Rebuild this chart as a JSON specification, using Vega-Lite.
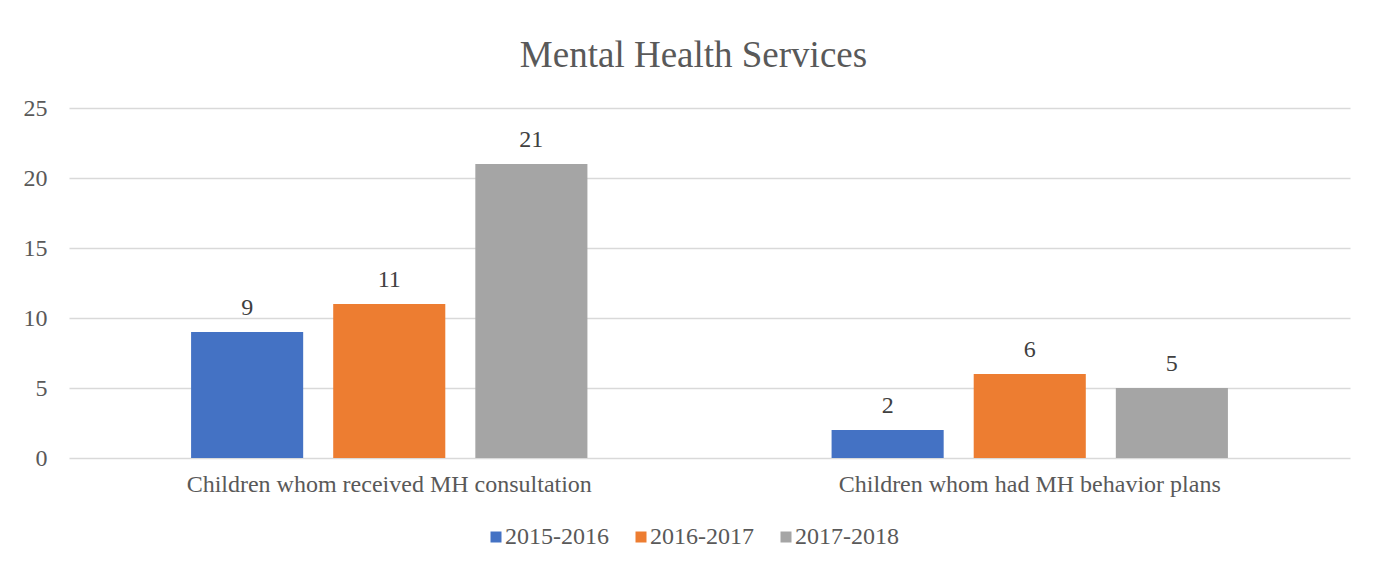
{
  "$schema": "https://vega.github.io/schema/vega-lite/v6.json",
  "autosize": "none",
  "width": 1281,
  "height": 350,
  "padding": {"left": 69, "top": 108, "right": 35, "bottom": 107},
  "background": "white",
  "title": {
    "text": "Mental Health Services",
    "anchor": "middle",
    "frame": "group",
    "dx": -16,
    "offset": -8,
    "baseline": "alphabetic",
    "font": "Liberation Serif",
    "fontSize": 37,
    "fontWeight": "normal",
    "color": "#595959"
  },
  "data": {
    "values": [
      {"category": "Children whom received MH consultation", "year": "2015-2016", "value": 9},
      {"category": "Children whom received MH consultation", "year": "2016-2017", "value": 11},
      {"category": "Children whom received MH consultation", "year": "2017-2018", "value": 21},
      {"category": "Children whom had MH behavior plans", "year": "2015-2016", "value": 2},
      {"category": "Children whom had MH behavior plans", "year": "2016-2017", "value": 6},
      {"category": "Children whom had MH behavior plans", "year": "2017-2018", "value": 5}
    ]
  },
  "encoding": {
    "x": {
      "field": "category",
      "type": "nominal",
      "sort": null,
      "scale": {"paddingInner": 0, "paddingOuter": 0},
      "axis": {
        "title": null,
        "labelAngle": 0,
        "ticks": false,
        "domain": false,
        "labelPadding": 14,
        "labelFont": "Liberation Serif",
        "labelFontSize": 24,
        "labelColor": "#595959",
        "labelLimit": 0
      }
    },
    "xOffset": {
      "field": "year",
      "type": "nominal",
      "scale": {"paddingInner": 0.2113, "paddingOuter": 0.859}
    },
    "y": {
      "field": "value",
      "type": "quantitative",
      "scale": {"domain": [0, 25], "nice": false},
      "axis": {
        "title": null,
        "values": [0, 5, 10, 15, 20, 25],
        "ticks": false,
        "domain": false,
        "labelPadding": 22,
        "labelFont": "Liberation Serif",
        "labelFontSize": 24,
        "labelColor": "#595959",
        "gridColor": "#D9D9D9",
        "gridWidth": 1.5
      }
    }
  },
  "layer": [
    {
      "mark": {"type": "bar"},
      "encoding": {
        "color": {
          "field": "year",
          "type": "nominal",
          "scale": {"domain": ["2015-2016", "2016-2017", "2017-2018"], "range": ["#4472C4", "#ED7D31", "#A5A5A5"]},
          "legend": {
            "title": null,
            "orient": "none",
            "direction": "horizontal",
            "legendX": 415,
            "legendY": 417,
            "padding": 0,
            "symbolType": "square",
            "symbolSize": 121,
            "symbolStrokeWidth": 0,
            "symbolOpacity": 1,
            "labelFont": "Liberation Serif",
            "labelFontSize": 24,
            "labelColor": "#595959",
            "labelOffset": -3,
            "columnPadding": 20
          }
        }
      }
    },
    {
      "mark": {
        "type": "text",
        "baseline": "alphabetic",
        "dy": -17,
        "font": "Liberation Serif",
        "fontSize": 24,
        "color": "#404040"
      },
      "encoding": {
        "text": {"field": "value", "type": "quantitative"}
      }
    }
  ],
  "config": {
    "view": {"stroke": null}
  }
}
